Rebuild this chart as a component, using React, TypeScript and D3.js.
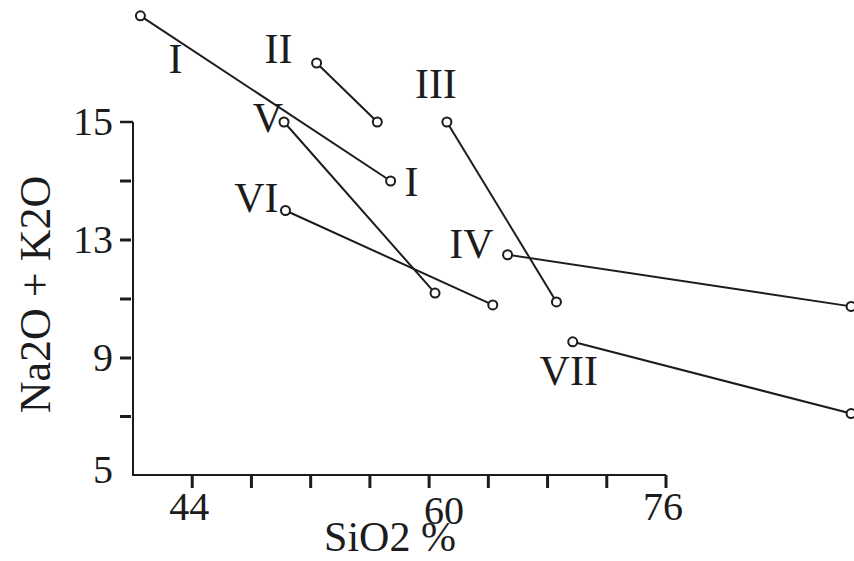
import { useEffect, useRef } from 'react';
import * as d3 from 'd3';

// series endpoints (SiO2 %, Na2O + K2O)
const seriesNames = ['I', 'II', 'III', 'IV', 'V', 'VI', 'VII'];
const sio2From = [40.5, 52.4, 61.2, 65.3, 50.2, 50.3, 69.7];
const alkFrom = [16.8, 16.0, 15.0, 12.5, 15.0, 13.5, 9.55];
const sio2To = [57.4, 56.5, 68.6, 88.5, 60.4, 64.3, 88.5];
const alkTo = [14.0, 15.0, 10.9, 10.75, 11.2, 10.8, 7.1];

const xTicks = [44, 48, 52, 56, 60, 64, 68, 72, 76];
const xTickLabels = ['44', '', '', '', '60', '', '', '', '76'];
const yTicks = [5, 7, 9, 11, 13, 14, 15];
const yTickLabels = ['5', '', '9', '', '13', '', '15'];

// label placement relative to a series end point (pixels)
const LABELS = [
  { series: 0, end: 'from', text: 'I', dx: 35, dy: 57, anchor: 'middle' },
  { series: 0, end: 'to', text: 'I', dx: 14, dy: 15, anchor: 'start' },
  { series: 1, end: 'from', text: 'II', dx: -24, dy: 0, anchor: 'end' },
  { series: 2, end: 'from', text: 'III', dx: -11, dy: -24, anchor: 'middle' },
  { series: 3, end: 'from', text: 'IV', dx: -14, dy: 3, anchor: 'end' },
  { series: 4, end: 'from', text: 'V', dx: -1, dy: 10, anchor: 'end' },
  { series: 5, end: 'from', text: 'VI', dx: -7, dy: 1, anchor: 'end' },
  { series: 6, end: 'from', text: 'VII', dx: -4, dy: 43, anchor: 'middle' },
];

const W = 854;
const H = 561;
const FONT = '"Liberation Serif", "Times New Roman", serif';
const INK = '#1c1c1c';

export default function App() {
  const svgRef = useRef<SVGSVGElement | null>(null);

  useEffect(() => {
    if (!svgRef.current) return;
    const svg = d3.select(svgRef.current);
    svg.selectAll('*').remove();

    const xScale = d3.scaleLinear().domain([40, 76]).range([133, 666]);
    // printed tick labels are not evenly spaced, so the scale is piecewise
    const yScale = d3.scaleLinear().domain([5, 9, 13, 15]).range([475, 358, 240, 122]);

    const x0 = xScale(40);
    const y0 = yScale(5);

    // axes
    svg.append('path')
      .attr('d', `M${x0},${yScale(15)}V${y0}H${xScale(76)}`)
      .attr('fill', 'none')
      .attr('stroke', INK)
      .attr('stroke-width', 2);

    svg.append('g')
      .selectAll('line')
      .data(xTicks)
      .join('line')
      .attr('x1', d => xScale(d)).attr('x2', d => xScale(d))
      .attr('y1', y0).attr('y2', y0 + 13)
      .attr('stroke', INK)
      .attr('stroke-width', 3);

    svg.append('g')
      .selectAll('line')
      .data(yTicks.filter(d => d !== 5))
      .join('line')
      .attr('x1', x0 - 13).attr('x2', d => (d === 15 ? x0 : x0 - 2))
      .attr('y1', d => yScale(d)).attr('y2', d => yScale(d))
      .attr('stroke', INK)
      .attr('stroke-width', d => (d === 15 ? 2.5 : 3));

    const labelDx: Record<string, number> = { '60': 18 };
    const labelDy: Record<string, number> = { '60': 4 };
    svg.append('g')
      .selectAll('text')
      .data(xTicks.map((d, i) => ({ v: d, t: xTickLabels[i] })).filter(d => d.t))
      .join('text')
      .attr('x', d => xScale(d.v) - 3 + (labelDx[d.t] || 0))
      .attr('y', d => y0 + 45 + (labelDy[d.t] || 0))
      .attr('text-anchor', 'middle')
      .attr('font-family', FONT)
      .attr('font-size', 40)
      .attr('fill', INK)
      .text(d => d.t);

    svg.append('g')
      .selectAll('text')
      .data(yTicks.map((d, i) => ({ v: d, t: yTickLabels[i] })).filter(d => d.t))
      .join('text')
      .attr('x', x0 - 20)
      .attr('y', d => yScale(d.v) + (d.v === 5 ? 8 : 13))
      .attr('text-anchor', 'end')
      .attr('font-family', FONT)
      .attr('font-size', 40)
      .attr('fill', INK)
      .text(d => d.t);

    // axis titles
    svg.append('text')
      .attr('x', 390).attr('y', 551)
      .attr('text-anchor', 'middle')
      .attr('font-family', FONT)
      .attr('font-size', 42)
      .attr('fill', INK)
      .text('SiO2 %');

    svg.append('text')
      .attr('transform', `translate(50,${(yScale(15) + y0) / 2 - 4}) rotate(-90)`)
      .attr('text-anchor', 'middle')
      .attr('font-family', FONT)
      .attr('font-size', 44)
      .attr('fill', INK)
      .text('Na2O + K2O');

    // trend segments
    const rows = seriesNames.map((name, i) => ({
      name,
      from: [sio2From[i], alkFrom[i]] as [number, number],
      to: [sio2To[i], alkTo[i]] as [number, number],
    }));

    const line = d3.line<[number, number]>()
      .x(d => xScale(d[0]))
      .y(d => yScale(d[1]));

    svg.append('g')
      .selectAll('path')
      .data(rows)
      .join('path')
      .attr('d', d => line([d.from, d.to]))
      .attr('fill', 'none')
      .attr('stroke', INK)
      .attr('stroke-width', 2);

    const pts = rows.flatMap(d => [d.from, d.to]);
    svg.append('g')
      .selectAll('circle')
      .data(pts)
      .join('circle')
      .attr('cx', d => xScale(d[0]))
      .attr('cy', d => yScale(d[1]))
      .attr('r', 4.5)
      .attr('fill', '#fff')
      .attr('stroke', INK)
      .attr('stroke-width', 2);

    svg.append('g')
      .selectAll('text')
      .data(LABELS)
      .join('text')
      .attr('x', d => {
        const p = d.end === 'from' ? rows[d.series].from : rows[d.series].to;
        return xScale(p[0]) + d.dx;
      })
      .attr('y', d => {
        const p = d.end === 'from' ? rows[d.series].from : rows[d.series].to;
        return yScale(p[1]) + d.dy;
      })
      .attr('text-anchor', d => d.anchor)
      .attr('font-family', FONT)
      .attr('font-size', 42)
      .attr('fill', INK)
      .text(d => d.text);
  }, []);

  return (
    <div style={{ position: 'fixed', left: 0, top: 0, width: W, height: H, background: '#fff' }}>
      <svg ref={svgRef} width={W} height={H} style={{ display: 'block' }} />
    </div>
  );
}
